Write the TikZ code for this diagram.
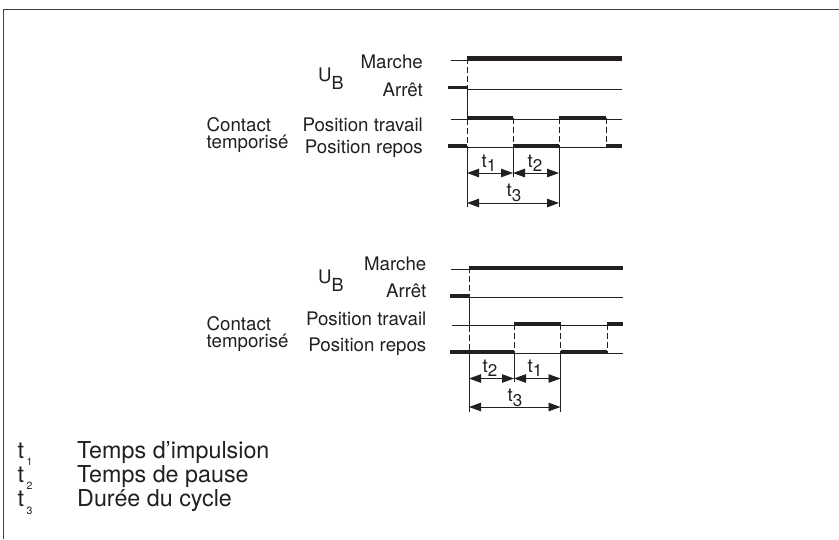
\documentclass[tikz,border=0pt]{standalone}
\usepackage{fontspec}
\setmainfont{TeX Gyre Heros}
\usetikzlibrary{arrows.meta}
\definecolor{ink}{HTML}{231F20}
\begin{document}
\begin{tikzpicture}[x=1pt,y=-1pt,
  lbl/.style={font=\fontsize{18.7}{21}\selectfont, inner sep=0pt, anchor=base east, text=ink},
  lblw/.style={font=\fontsize{18.7}{21}\selectfont, inner sep=0pt, anchor=base west, text=ink},
  twoline/.style={font=\fontsize{18.7}{17}\selectfont, inner sep=0pt, anchor=base west, align=left, text=ink},
  ubs/.style={font=\fontsize{18}{21}\selectfont, inner sep=0pt, anchor=base west, text=ink},
  leg/.style={font=\fontsize{23.3}{26}\selectfont, inner sep=0pt, anchor=base west, text=ink},
  legsub/.style={font=\fontsize{10.5}{12}\selectfont, inner sep=0pt, anchor=base west, text=ink},
  tlbl/.style={font=\fontsize{18.7}{21}\selectfont, inner sep=0pt, text=ink},
  thinl/.style={line width=0.9pt, draw=ink},
  sig/.style={line width=3.6pt, draw=ink},
  dsh/.style={line width=0.9pt, draw=ink, dash pattern=on 6pt off 3pt},
  dim/.style={line width=0.9pt, draw=ink, {Triangle[length=12pt,width=8.5pt]}-{Triangle[length=12pt,width=8.5pt]}},
  frame/.style={line width=1.5pt, draw=ink!85}
]
\newcommand{\tsub}[2]{t\raisebox{-4.5pt}{\fontsize{17}{19}\selectfont #2}}
\useasboundingbox (0,0) rectangle (839,539);
% frame (top and left only)
\draw[frame] (3.5,539) -- (3.5,9.5) -- (839,9.5);

% ---------------- top diagram ----------------
\node[lbl] (m1) at (423,68) {Marche};
\node[lbl] (a1) at (423,96.5) {Arrêt};
\node[lbl] (pt1) at (423,131.5) {Position travail};
\node[lbl] (pr1) at (423,153) {Position repos};
\node[lblw] (u1) at (318,81.5) {U};
\node[ubs] (ub1) at (331.5,89.5) {B};
\node[twoline] (c1) at (206.5,148.5) {Contact\\temporisé};

% reference lines
\draw[thinl] (451,60) -- (622,60);
\draw[thinl] (467,89.3) -- (622,89.3);
\draw[thinl] (451,119.3) -- (622,119.3);
\draw[thinl] (451,147.7) -- (622,147.7);
% signal (thick)
\draw[sig] (467,58.2) -- (622,58.2);
\draw[sig] (448,87.6) -- (467,87.6);
\draw[sig] (467,117.5) -- (513,117.5);
\draw[sig] (559,117.5) -- (606,117.5);
\draw[sig] (448,146) -- (467,146);
\draw[sig] (513,146) -- (559,146);
\draw[sig] (606,146) -- (622,146);
% transitions
\draw[dsh] (467,58) -- (467,89.3);
\draw[thinl] (467,89.3) -- (467,119.3);
\draw[dsh] (467,119.3) -- (467,147.7);
\draw[thinl] (467,147.7) -- (467,207);
\draw[dsh] (513,117.5) -- (513,147.7);
\draw[thinl] (513,147.7) -- (513,177);
\draw[dsh] (559,117.5) -- (559,147.7);
\draw[thinl] (559,147.7) -- (559,207);
\draw[dsh] (606,117.5) -- (606,146);
% dimensions
\coordinate (d1a) at (467,173);
\coordinate (d1b) at (513,173);
\coordinate (d1c) at (559,173);
\coordinate (d1d) at (467,203);
\coordinate (d1e) at (559,203);
\draw[dim] (d1a) -- (d1b);
\draw[dim] (d1b) -- (d1c);
\draw[dim] (d1d) -- (d1e);
\node[tlbl] (t11) at (489,163) {\tsub{t}{1}};
\node[tlbl] (t21) at (535,163) {\tsub{t}{2}};
\node[tlbl] (t31) at (514,193) {\tsub{t}{3}};

% ---------------- bottom diagram ----------------
\node[lbl] (m2) at (426.5,270) {Marche};
\node[lbl] (a2) at (426.5,297.3) {Arrêt};
\node[lbl] (pt2) at (426.5,325) {Position travail};
\node[lbl] (pr2) at (426.5,351.7) {Position repos};
\node[lblw] (u2) at (318,283) {U};
\node[ubs] (ub2) at (331.5,291) {B};
\node[twoline] (c2) at (206.5,347.3) {Contact\\temporisé};

% reference lines
\draw[thinl] (451,269) -- (623,269);
\draw[thinl] (469,297.3) -- (623,297.3);
\draw[thinl] (452,325.7) -- (623,325.7);
\draw[thinl] (450,353.3) -- (623,353.3);
% signal
\draw[sig] (469,267.3) -- (623,267.3);
\draw[sig] (450,295.7) -- (469,295.7);
\draw[sig] (514,324) -- (560.5,324);
\draw[sig] (607,324) -- (623,324);
\draw[sig] (450,351.7) -- (514,351.7);
\draw[sig] (560.5,351.7) -- (607,351.7);
% transitions
\draw[dsh] (469,267) -- (469,297.3);
\draw[thinl] (469,297.3) -- (469,325.7);
\draw[dsh] (469,325.7) -- (469,353.3);
\draw[thinl] (469,353.3) -- (469,412);
\draw[dsh] (514,324) -- (514,353.3);
\draw[thinl] (514,353.3) -- (514,382);
\draw[dsh] (560.5,324) -- (560.5,353.3);
\draw[thinl] (560.5,353.3) -- (560.5,412);
\draw[dsh] (607,324) -- (607,353.3);
% dimensions
\coordinate (d2a) at (469,378.5);
\coordinate (d2b) at (514,378.5);
\coordinate (d2c) at (560.5,378.5);
\coordinate (d2d) at (469,407);
\coordinate (d2e) at (560.5,407);
\draw[dim] (d2a) -- (d2b);
\draw[dim] (d2b) -- (d2c);
\draw[dim] (d2d) -- (d2e);
\node[tlbl] (t22) at (490,368) {\tsub{t}{2}};
\node[tlbl] (t12) at (535,368) {\tsub{t}{1}};
\node[tlbl] (t32) at (515,398) {\tsub{t}{3}};

% ---------------- legend ----------------
\node[leg] (lt1) at (17.5,458.3) {t};
\node[legsub] (ls1) at (26.5,465.5) {1};
\node[leg] (lx1) at (77,458.3) {Temps d’impulsion};
\node[leg] (lt2) at (17.5,482) {t};
\node[legsub] (ls2) at (26.5,489.5) {2};
\node[leg] (lx2) at (77,482) {Temps de pause};
\node[leg] (lt3) at (17.5,506.5) {t};
\node[legsub] (ls3) at (26.5,514) {3};
\node[leg] (lx3) at (77,506.5) {Durée du cycle};
\end{tikzpicture}
\end{document}
